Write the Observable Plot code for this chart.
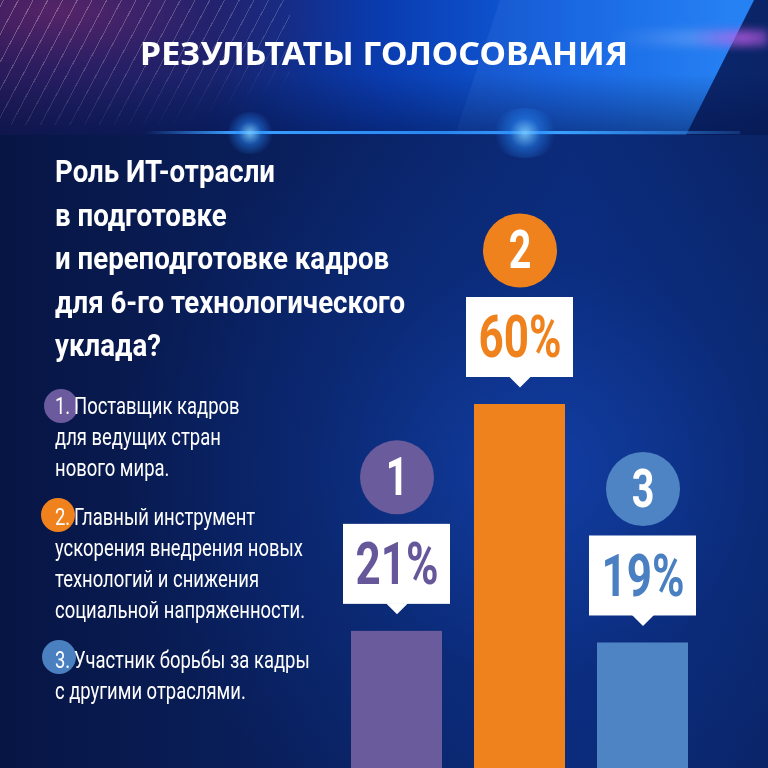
<!DOCTYPE html>
<html><head><meta charset="utf-8">
<script src="https://cdn.jsdelivr.net/npm/d3@7"></script>
<script src="https://cdn.jsdelivr.net/npm/@observablehq/plot@0.6"></script>
<style>
html,body{margin:0;padding:0;background:#061848;}
#wrap{position:relative;width:768px;height:768px;overflow:hidden;
 background:
  radial-gradient(ellipse 420px 380px at 540px 470px, rgba(20,70,180,0.7) 0%, rgba(12,50,140,0.4) 55%, rgba(8,30,90,0) 100%),
  linear-gradient(90deg, #071544 0%, #0a2262 45%, #0b2a78 75%, #0a2466 100%);}
#banner{position:absolute;left:0;top:0;width:768px;height:135px;
 background:linear-gradient(90deg,#1c1a55 0%,#10246e 28%,#0a3cb0 50%,#1060e0 75%,#1d7cf2 95%);
 clip-path:polygon(0 0,754px 0,686px 135px,0 135px);}
#banner2{position:absolute;left:0;top:0;width:768px;height:135px;
 background:linear-gradient(180deg,rgba(4,14,60,0) 0%,rgba(4,14,60,0.0) 55%,rgba(4,18,70,0.5) 100%);}
#facet{position:absolute;left:0;top:0;width:768px;height:135px;background:rgba(120,180,255,0.10);
 clip-path:polygon(500px 0,754px 0,686px 135px,455px 135px);}
#purple{position:absolute;left:0;top:0;width:420px;height:135px;
 background:radial-gradient(ellipse 300px 120px at 60px 10px, rgba(120,40,110,0.65) 0%, rgba(80,30,110,0.3) 50%, rgba(0,0,0,0) 100%);}
#stripes{position:absolute;left:0;top:0;width:290px;height:125px;
 background:repeating-linear-gradient(-62deg, rgba(255,255,255,0) 0px, rgba(255,255,255,0) 12px, rgba(255,255,255,0.28) 12px, rgba(255,255,255,0.28) 13px);
 -webkit-mask-image:linear-gradient(160deg,#000 10%,rgba(0,0,0,0.6) 55%,rgba(0,0,0,0) 85%);
 mask-image:linear-gradient(160deg,#000 10%,rgba(0,0,0,0.6) 55%,rgba(0,0,0,0) 85%);}
#streak{position:absolute;left:610px;top:30px;width:158px;height:16px;
 background:linear-gradient(90deg,rgba(150,190,255,0) 0%,rgba(160,190,255,0.3) 50%,rgba(190,90,230,0.75) 85%,rgba(190,90,230,0.5) 100%);filter:blur(4px);}
#line{position:absolute;left:145px;top:131px;width:595px;height:3px;
 background:linear-gradient(90deg,rgba(60,150,255,0) 0%,#3aa0ff 15%,#2a86ee 50%,#3aa0ff 70%,rgba(60,150,255,0.2) 100%);}
.glow{position:absolute;border-radius:50%;background:radial-gradient(circle,rgba(120,200,255,0.9) 0%,rgba(40,140,255,0.45) 35%,rgba(40,140,255,0) 70%);}
#title{position:absolute;left:0;width:768px;top:31px;text-align:center;color:#fff;
 font-family:"Noto Sans","Open Sans",sans-serif;font-weight:700;font-size:33px;line-height:44px;white-space:nowrap;}
#title span{display:inline-block;transform-origin:center top;}
#question{position:absolute;left:55px;top:150px;color:#fff;font-family:Roboto,sans-serif;
 font-weight:700;font-size:31px;line-height:43.6px;transform-origin:left top;white-space:nowrap;}
#question span{display:inline-block;}
#legendText{position:absolute;left:55px;top:0;transform-origin:left top;}
.item{position:absolute;left:0;color:#fff;font-family:Roboto,sans-serif;
 font-size:23px;line-height:31px;white-space:nowrap;}
.item span{display:inline-block;}
.bullet{position:absolute;width:34px;height:34px;border-radius:50%;}
#chart{position:absolute;left:0;top:0;}
</style></head>
<body>
<div id="wrap">
  <div id="banner"></div>
  <div id="facet"></div>
  <div id="purple"></div>
  <div id="stripes"></div>
  <div id="banner2"></div>
  <div id="streak"></div>
  <div id="line"></div>
  <div class="glow" style="left:225px;top:112px;width:50px;height:42px;"></div>
  <div class="glow" style="left:490px;top:108px;width:70px;height:50px;"></div>
  <div id="title"><span id="titleSpan"></span></div>
  <div id="question"></div>
  <div id="legend"></div>
  <div id="legendText"></div>
  <div id="chart"></div>
</div>
<script>
const titleText = "РЕЗУЛЬТАТЫ ГОЛОСОВАНИЯ";
const questionLines = ["Роль ИТ-отрасли", "в подготовке", "и переподготовке кадров", "для 6-го технологического", "уклада?"];
const categories = ["1", "2", "3"];
const values = [21, 60, 19];
const valueLabels = ["21%", "60%", "19%"];
const colors = ["#6a5b9c", "#f0821e", "#4f84c4"];
const textColors = ["#66579a", "#f0821e", "#4a80c2"];
const answerNumbers = ["1.", "2.", "3."];
const answers = [
  ["Поставщик кадров", "для ведущих стран", "нового мира."],
  ["Главный инструмент", "ускорения внедрения новых", "технологий и снижения", "социальной напряженности."],
  ["Участник борьбы за кадры", "с другими отраслями."]
];

// title
const ts = document.getElementById("titleSpan");
ts.textContent = titleText;
ts.style.transform = `scaleX(${488 / ts.getBoundingClientRect().width})`;

// question
const q = document.getElementById("question");
q.innerHTML = questionLines.map(l => `<span>${l}</span>`).join("<br>");
const qw = q.querySelectorAll("span")[3].getBoundingClientRect().width;
q.style.transform = `scaleX(${350 / qw})`;

// legend
const legend = document.getElementById("legend");
const legendText = document.getElementById("legendText");
const itemTops = [393, 504, 647];
const bulletPos = [[61, 406], [58, 515], [59, 657]];
const bulletColors = ["#6b5b9e", "#f0821e", "#4a80c0"];
answers.forEach((lines, i) => {
  const b = document.createElement("div");
  b.className = "bullet";
  b.style.left = (bulletPos[i][0] - 17) + "px";
  b.style.top = (bulletPos[i][1] - 17) + "px";
  b.style.background = bulletColors[i];
  legend.appendChild(b);
  const t = document.createElement("div");
  t.className = "item";
  t.style.top = (itemTops[i] - 2) + "px";
  const ls = lines.slice();
  ls[0] = answerNumbers[i] + "\u2009" + ls[0];
  t.innerHTML = ls.map(l => `<span>${l}</span>`).join("<br>");
  legendText.appendChild(t);
});
const lw = legendText.querySelectorAll(".item")[1].querySelectorAll("span")[1].getBoundingClientRect().width;
legendText.style.transform = `scaleX(${248 / lw})`;

const data = categories.map((c, i) => ({cat: c, value: values[i], label: valueLabels[i], color: colors[i], tcolor: textColors[i]}));

const downTri = {draw(ctx) { ctx.moveTo(-11, 0); ctx.lineTo(11, 0); ctx.lineTo(0, 11); ctx.closePath(); }};

const chart = Plot.plot({
  width: 768, height: 768,
  margin: 0,
  style: {background: "transparent", overflow: "visible"},
  x: {domain: categories, range: [317.5, 720.5], padding: 0.263, axis: null},
  y: {domain: [0, 60], range: [753, 404], axis: null},
  marks: [
    Plot.barY(data, {x: "cat", y: "value", fill: d => d.color, insetBottom: -30}),
    Plot.barY(data, {x: "cat", y1: "value", y2: "value", fill: "white", insetLeft: -8, insetRight: -8, insetTop: -107, insetBottom: 27}),
    Plot.dot(data, {x: "cat", y: "value", symbol: downTri, fill: "white", stroke: null, dy: -28}),
    Plot.text(data, {x: "cat", y: "value", text: "label", fill: d => d.tcolor, dy: -66, fontSize: 59, fontWeight: 700,
      fontFamily: "Roboto, sans-serif", lineAnchor: "middle", className: "pct"}),
    Plot.dot(data, {x: "cat", y: "value", r: 37, fill: d => d.color, stroke: null, dy: -154}),
    Plot.text(data, {x: "cat", y: "value", text: "cat", fill: "white", dy: -153, fontSize: 53, fontWeight: 700,
      fontFamily: "Roboto, sans-serif", lineAnchor: "middle", className: "num"})
  ]
});
document.getElementById("chart").appendChild(chart);

// condense the big numerals horizontally to match the narrow display face
function condense(sel, s) {
  chart.querySelectorAll(sel + " text").forEach(el => {
    const x = el.getAttribute("x"), y = el.getAttribute("y");
    if (x !== null && y !== null) {
      el.setAttribute("transform", `translate(${x},${y}) scale(${s},1) translate(${-x},${-y})`);
    } else {
      const t = el.getAttribute("transform") || "";
      el.setAttribute("transform", t + ` scale(${s},1)`);
    }
  });
}
const pctEls = chart.querySelectorAll(".pct text");
const w60 = pctEls[1].getBBox().width;
const s = 83 / w60;
condense(".pct", s);
condense(".num", s);
</script>
</body></html>
